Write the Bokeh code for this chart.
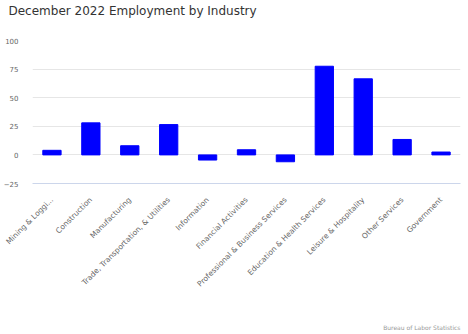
import math
from bokeh.plotting import figure
from bokeh.models import ColumnDataSource, Range1d, FixedTicker, Title
from bokeh.embed import file_html
from bokeh.resources import INLINE

industries = [
    "Mining & Loggi...", "Construction", "Manufacturing",
    "Trade, Transportation, & Utilities", "Information", "Financial Activities",
    "Professional & Business Services", "Education & Health Services",
    "Leisure & Hospitality", "Other Services", "Government",
]
jobs_change = [4, 28, 8, 26.5, -4.5, 4.5, -6, 77.5, 66.5, 13.5, 2.5]
y_ticks = [-25, 0, 25, 50, 75, 100]

FONT = "DejaVu Sans"

p = figure(
    width=468, height=334, x_range=industries, y_range=Range1d(-25, 100),
    output_backend="svg", toolbar_location=None,
    min_border_left=32, min_border_right=8, min_border_top=40, min_border_bottom=151,
)

# spacer between frame and title, then the title itself
p.add_layout(Title(text=" ", text_font_size="1px", standoff=20), "above")
p.add_layout(Title(text="December 2022 Employment by Industry", align="left",
                   offset=-24, standoff=0, text_font=FONT, text_font_size="12px",
                   text_font_style="normal", text_color="#333333"), "above")

src = ColumnDataSource(dict(x=industries, top=jobs_change))
p.vbar(x="x", top="top", bottom=0, width=0.47, source=src,
       fill_color="#0000ff", line_color="#0000ff")

p.outline_line_color = None
p.xgrid.grid_line_color = None
p.ygrid.grid_line_color = "#e6e6e6"
p.ygrid.ticker = FixedTicker(ticks=y_ticks)

p.yaxis.ticker = FixedTicker(ticks=y_ticks)
p.yaxis.axis_line_color = None
p.yaxis.major_tick_line_color = None
p.yaxis.minor_tick_line_color = None
p.yaxis.major_label_text_font = FONT
p.yaxis.major_label_text_font_size = "7px"
p.yaxis.major_label_text_color = "#666666"
p.yaxis.major_label_standoff = 8

p.xaxis.axis_line_color = "#ccd6eb"
p.xaxis.major_tick_line_color = None
p.xaxis.minor_tick_line_color = None
p.xaxis.major_label_orientation = math.pi / 4
p.xaxis.major_label_text_font = FONT
p.xaxis.major_label_text_font_size = "7.5px"
p.xaxis.major_label_text_color = "#666666"
p.xaxis.major_label_standoff = 9

# spacer below the axis, then the source credit
p.add_layout(Title(text=" ", text_font_size="1px", standoff=24), "below")
p.add_layout(Title(text="Bureau of Labor Statistics", align="right", standoff=0,
                   text_font=FONT, text_font_size="6px", text_font_style="normal",
                   text_color="#999999"), "below")

open("out.html", "w").write(file_html(p, INLINE))
